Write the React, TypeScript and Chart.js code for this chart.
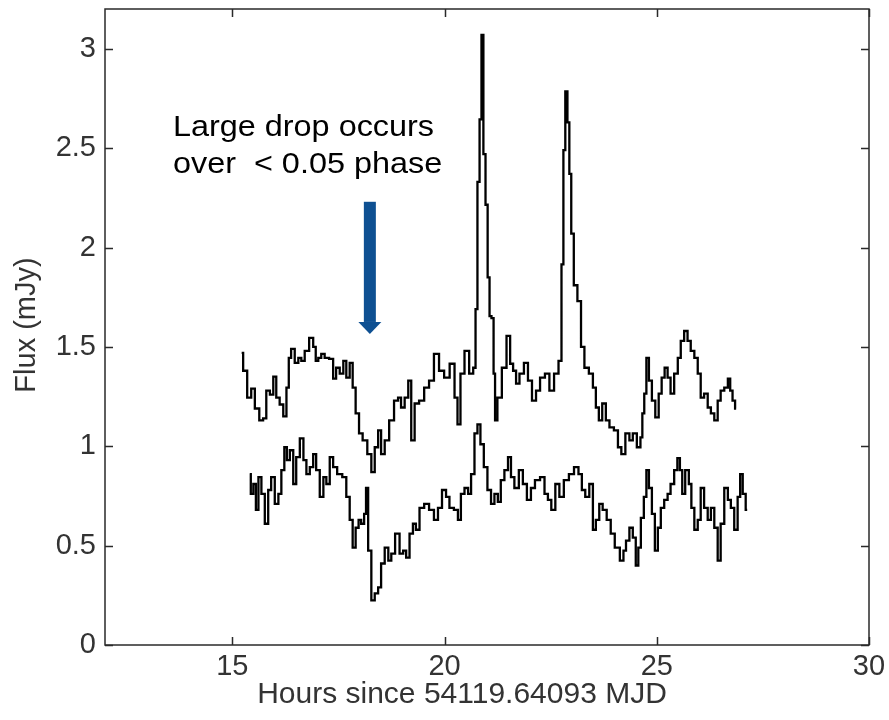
import React, { useEffect, useRef } from "react";
import { Chart, registerables } from "chart.js";

Chart.register(...registerables);

// Hours since 54119.64093 MJD, and flux density (mJy) of the upper light curve
const upperHours = [
  15.22, 15.29, 15.41, 15.48, 15.58, 15.69, 15.76, 15.84, 15.93, 16.0,
  16.07, 16.16, 16.24, 16.31, 16.35, 16.42, 16.52, 16.59, 16.66, 16.75,
  16.87, 16.94, 16.99, 17.06, 17.13, 17.22, 17.34, 17.41, 17.48, 17.58,
  17.65, 17.72, 17.81, 17.86, 17.95, 18.02, 18.12, 18.24, 18.31, 18.4,
  18.47, 18.54, 18.64, 18.75, 18.87, 18.94, 19.01, 19.11, 19.18, 19.25,
  19.34, 19.46, 19.58, 19.69, 19.81, 19.93, 20.05, 20.19, 20.28, 20.33,
  20.42, 20.52, 20.64, 20.71, 20.75, 20.8, 20.85, 20.89, 20.94, 20.99,
  21.04, 21.08, 21.13, 21.18, 21.2, 21.29, 21.41, 21.51, 21.58, 21.65,
  21.72, 21.81, 21.93, 22.0, 22.12, 22.19, 22.31, 22.42, 22.52, 22.64,
  22.73, 22.78, 22.82, 22.87, 22.92, 22.96, 23.01, 23.08, 23.18, 23.25,
  23.34, 23.46, 23.53, 23.6, 23.67, 23.76, 23.84, 23.93, 24.05, 24.12,
  24.21, 24.31, 24.4, 24.47, 24.59, 24.64, 24.68, 24.73, 24.78, 24.85,
  24.92, 25.01, 25.08, 25.15, 25.22, 25.29, 25.36, 25.46, 25.53, 25.6,
  25.69, 25.76, 25.84, 25.93, 26.0, 26.07, 26.16, 26.24, 26.31, 26.4,
  26.47, 26.54, 26.64, 26.71, 26.75, 26.82, 26.87,
];
const upperFlux = [
  1.47, 1.38, 1.245, 1.29, 1.19, 1.13, 1.14, 1.28, 1.26, 1.35,
  1.245, 1.21, 1.15, 1.295, 1.445, 1.49, 1.42, 1.445, 1.43, 1.48,
  1.545, 1.5, 1.43, 1.445, 1.465, 1.445, 1.44, 1.34, 1.395, 1.365,
  1.43, 1.345, 1.42, 1.295, 1.165, 1.065, 1.03, 0.96, 0.87, 0.995,
  1.08, 0.96, 1.03, 1.13, 1.23, 1.245, 1.195, 1.245, 1.33, 1.03,
  1.215, 1.23, 1.295, 1.33, 1.465, 1.38, 1.345, 1.415, 1.245, 1.11,
  1.365, 1.48, 1.365, 1.395, 1.69, 2.33, 2.645, 3.07, 2.47, 2.215,
  1.85, 1.655, 1.645, 1.365, 1.13, 1.245, 1.395, 1.555, 1.415, 1.38,
  1.315, 1.365, 1.42, 1.33, 1.23, 1.28, 1.345, 1.365, 1.28, 1.365,
  1.43, 1.915, 2.49, 2.785, 2.63, 2.37, 2.07, 1.81, 1.73, 1.5,
  1.395, 1.365, 1.295, 1.195, 1.13, 1.215, 1.13, 1.095, 1.08, 0.995,
  0.96, 1.065, 1.03, 1.065, 0.995, 1.045, 1.165, 1.265, 1.445, 1.33,
  1.23, 1.145, 1.265, 1.345, 1.395, 1.345, 1.265, 1.365, 1.445, 1.53,
  1.58, 1.53, 1.48, 1.445, 1.365, 1.245, 1.265, 1.195, 1.165, 1.13,
  1.23, 1.28, 1.295, 1.34, 1.28, 1.23, 1.19,
];

// Lower light curve
const lowerHours = [
  15.41, 15.46, 15.53, 15.58, 15.65, 15.72, 15.81, 15.88, 15.95, 16.05,
  16.12, 16.19, 16.26, 16.31, 16.4, 16.47, 16.54, 16.64, 16.71, 16.78,
  16.87, 16.94, 17.01, 17.11, 17.18, 17.25, 17.34, 17.41, 17.53, 17.65,
  17.72, 17.81, 17.86, 17.95, 18.0, 18.07, 18.14, 18.16, 18.24, 18.31,
  18.4, 18.47, 18.54, 18.64, 18.71, 18.78, 18.89, 18.99, 19.06, 19.13,
  19.22, 19.29, 19.36, 19.46, 19.58, 19.69, 19.81, 19.88, 20.0, 20.07,
  20.16, 20.28, 20.35, 20.42, 20.52, 20.59, 20.66, 20.75, 20.8, 20.89,
  20.96, 21.06, 21.13, 21.22, 21.29, 21.36, 21.46, 21.53, 21.6, 21.69,
  21.81, 21.88, 22.0, 22.07, 22.19, 22.31, 22.4, 22.47, 22.56, 22.66,
  22.75, 22.87, 22.99, 23.11, 23.2, 23.27, 23.36, 23.46, 23.53, 23.6,
  23.69, 23.76, 23.88, 23.95, 24.07, 24.19, 24.24, 24.31, 24.4, 24.47,
  24.54, 24.59, 24.66, 24.73, 24.78, 24.85, 24.92, 24.99, 25.06, 25.13,
  25.22, 25.29, 25.36, 25.46, 25.51, 25.58, 25.62, 25.72, 25.79, 25.84,
  25.93, 26.0, 26.07, 26.16, 26.24, 26.31, 26.4, 26.47, 26.54, 26.64,
  26.71, 26.78, 26.87, 26.94, 26.99, 27.06, 27.13,
];
const lowerFlux = [
  0.86, 0.76, 0.81, 0.68, 0.845, 0.76, 0.61, 0.78, 0.845, 0.71,
  0.76, 0.88, 0.995, 0.93, 0.98, 0.81, 0.945, 1.04, 0.93, 0.86,
  0.895, 0.96, 0.88, 0.745, 0.845, 0.81, 0.945, 0.895, 0.86, 0.845,
  0.745, 0.63, 0.49, 0.59, 0.63, 0.61, 0.66, 0.79, 0.475, 0.225,
  0.26, 0.29, 0.41, 0.49, 0.425, 0.46, 0.56, 0.46, 0.475, 0.44,
  0.56, 0.61, 0.58, 0.69, 0.71, 0.68, 0.63, 0.69, 0.78, 0.745,
  0.69, 0.68, 0.63, 0.76, 0.79, 0.76, 0.86, 1.065, 1.11, 1.01,
  0.895, 0.78, 0.71, 0.76, 0.72, 0.83, 0.88, 0.945, 0.845, 0.79,
  0.88, 0.81, 0.73, 0.79, 0.83, 0.845, 0.76, 0.73, 0.68, 0.81,
  0.745, 0.83, 0.86, 0.895, 0.86, 0.78, 0.745, 0.81, 0.58, 0.63,
  0.71, 0.68, 0.63, 0.56, 0.49, 0.425, 0.475, 0.525, 0.59, 0.54,
  0.4, 0.49, 0.64, 0.745, 0.88, 0.79, 0.66, 0.475, 0.59, 0.69,
  0.73, 0.76, 0.81, 0.88, 0.94, 0.88, 0.76, 0.88, 0.81, 0.69,
  0.58, 0.63, 0.79, 0.69, 0.63, 0.69, 0.59, 0.425, 0.61, 0.79,
  0.73, 0.69, 0.58, 0.745, 0.86, 0.76, 0.68,
];

const xTicks = [15, 20, 25, 30];
const yTicks = [0, 0.5, 1, 1.5, 2, 2.5, 3];
const xTitle = "Hours since 54119.64093 MJD";
const yTitle = "Flux (mJy)";
const noteLines = ["Large drop occurs", "over  < 0.05 phase"];

// Callout placement in data units: text anchor and the arrow marking the drop
const noteAt = { x: 13.6, y: [2.56, 2.375] };
const arrowAt = { x: 18.24, from: 2.23, to: 1.565 };

const FONT = '"Liberation Sans", Arial, Helvetica, sans-serif';
const INK = "#333333";

const framePlugin = {
  id: "frameAndNotes",
  afterDraw(chart: any) {
    const { ctx, chartArea: a, scales } = chart;
    const xs = scales.x;
    const ys = scales.y;
    ctx.save();

    // Box around the axes with inward tick marks on all four sides
    ctx.strokeStyle = "#2a2a2a";
    ctx.lineWidth = 1.5;
    ctx.strokeRect(a.left, a.top, a.right - a.left, a.bottom - a.top);
    const tl = 8;
    ctx.beginPath();
    xs.ticks.forEach((t: any) => {
      const px = Math.round(xs.getPixelForValue(t.value)) + 0.5;
      ctx.moveTo(px, a.bottom);
      ctx.lineTo(px, a.bottom - tl);
      ctx.moveTo(px, a.top);
      ctx.lineTo(px, a.top + tl);
    });
    ys.ticks.forEach((t: any) => {
      const py = Math.round(ys.getPixelForValue(t.value)) + 0.5;
      ctx.moveTo(a.left, py);
      ctx.lineTo(a.left + tl, py);
      ctx.moveTo(a.right, py);
      ctx.lineTo(a.right - tl, py);
    });
    ctx.stroke();

    // Axis titles
    ctx.fillStyle = INK;
    ctx.textBaseline = "alphabetic";
    ctx.textAlign = "center";
    ctx.font = `30px ${FONT}`;
    ctx.fillText(xTitle, (a.left + a.right) / 2 - 25, a.bottom + 58);
    ctx.save();
    ctx.translate(a.left - 70, (a.top + a.bottom) / 2 - 2);
    ctx.rotate(-Math.PI / 2);
    ctx.font = `29px ${FONT}`;
    ctx.fillText(yTitle, 0, 0);
    ctx.restore();

    // Callout text, set slightly wide
    ctx.fillStyle = "#000000";
    ctx.textAlign = "left";
    ctx.font = `30px ${FONT}`;
    const nx = xs.getPixelForValue(noteAt.x);
    noteLines.forEach((line, i) => {
      ctx.save();
      ctx.translate(nx, ys.getPixelForValue(noteAt.y[i]));
      ctx.scale(1.08, 1);
      ctx.fillText(line, 0, 0);
      ctx.restore();
    });

    // Downward arrow
    const ax = xs.getPixelForValue(arrowAt.x);
    const y0 = ys.getPixelForValue(arrowAt.from);
    const y1 = ys.getPixelForValue(arrowAt.to);
    const head = 12;
    ctx.fillStyle = "#0e5092";
    ctx.fillRect(ax - 6, y0, 12, y1 - head - y0);
    ctx.beginPath();
    ctx.moveTo(ax - 11.5, y1 - head);
    ctx.lineTo(ax + 11.5, y1 - head);
    ctx.lineTo(ax, y1);
    ctx.closePath();
    ctx.fill();

    ctx.restore();
  },
};

export default function App() {
  const canvasRef = useRef<HTMLCanvasElement | null>(null);

  useEffect(() => {
    const canvas = canvasRef.current;
    if (!canvas) return;
    const toPoints = (xs: number[], ys: number[]) =>
      xs.map((x, i) => ({ x, y: ys[i] }));

    // Sampled light curves are drawn as stairs
    const curve = (pts: { x: number; y: number }[]) => ({
      data: pts,
      borderColor: "#000000",
      borderWidth: 2.3,
      borderJoinStyle: "miter" as const,
      pointRadius: 0,
      stepped: "middle" as const,
      fill: false,
    });

    const chart = new Chart(canvas, {
      type: "line",
      data: {
        datasets: [
          curve(toPoints(upperHours, upperFlux)),
          curve(toPoints(lowerHours, lowerFlux)),
        ],
      },
      options: {
        responsive: false,
        animation: false,
        events: [],
        layout: { padding: { top: 9, right: 20, left: 0, bottom: 0 } },
        plugins: {
          legend: { display: false },
          tooltip: { enabled: false },
        },
        scales: {
          x: {
            type: "linear",
            min: 12,
            max: 30,
            grid: { display: false, drawTicks: false },
            border: { display: false },
            afterBuildTicks: (s: any) => {
              s.ticks = xTicks.map((v) => ({ value: v }));
            },
            afterFit: (s: any) => {
              s.height = 75;
              s.paddingLeft = 0;
              s.paddingRight = 0;
            },
            ticks: {
              autoSkip: false,
              maxRotation: 0,
              padding: 5,
              color: INK,
              font: { family: FONT, size: 29 },
              callback: (v: any) => String(v),
            },
          },
          y: {
            type: "linear",
            min: 0,
            max: 3.2,
            grid: { display: false, drawTicks: false },
            border: { display: false },
            afterBuildTicks: (s: any) => {
              s.ticks = yTicks.map((v) => ({ value: v }));
            },
            afterFit: (s: any) => {
              s.width = 105;
              s.paddingTop = 0;
              s.paddingBottom = 0;
            },
            ticks: {
              autoSkip: false,
              padding: 9,
              color: INK,
              font: { family: FONT, size: 29 },
              callback: (v: any) => String(v),
            },
          },
        },
      },
      plugins: [framePlugin],
    });
    return () => chart.destroy();
  }, []);

  return (
    <div
      style={{
        position: "fixed",
        left: 0,
        top: 0,
        width: 889,
        height: 720,
        background: "#ffffff",
      }}
    >
      <canvas
        ref={canvasRef}
        width={889}
        height={720}
        style={{ display: "block" }}
      />
    </div>
  );
}
